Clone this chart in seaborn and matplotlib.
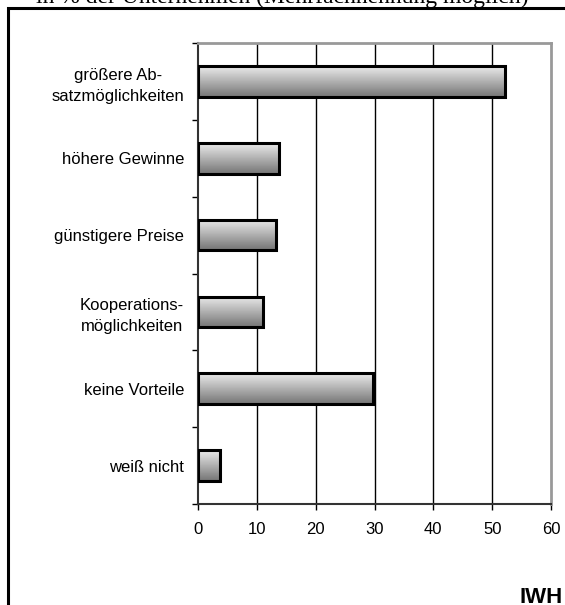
import numpy as np
import matplotlib
matplotlib.use("Agg")
import matplotlib.pyplot as plt
from matplotlib.patches import Rectangle
import seaborn as sns
import pandas as pd

categories = ["größere Ab-\nsatzmöglichkeiten", "höhere Gewinne", "günstigere Preise",
              "Kooperations-\nmöglichkeiten", "keine Vorteile", "weiß nicht"]
values = [52.1, 13.7, 13.2, 11.0, 29.8, 3.8]
x_ticks = [0, 10, 20, 30, 40, 50, 60]
title = "in % der Unternehmen (Mehrfachnennung möglich)"

sns.set_style("white")
plt.rcParams['font.family'] = ['Liberation Sans', 'DejaVu Sans']
plt.rcParams['text.color'] = 'black'
plt.rcParams['xtick.color'] = 'black'
plt.rcParams['ytick.color'] = 'black'

df = pd.DataFrame({"cat": categories, "val": values})

W, H = 565, 605
fig = plt.figure(figsize=(W / 100, H / 100), dpi=100)
ax = fig.add_axes([198 / W, 1 - 504 / H, (551 - 198) / W, (504 - 43) / H])

sns.barplot(data=df, x="val", y="cat", orient="h", width=0.4,
            color="white", edgecolor="black", linewidth=2.2, ax=ax, zorder=3)

# vertical gradient inside each bar
grad = np.linspace(0.92, 0.46, 64).reshape(-1, 1)
for p in ax.patches:
    x0, y0 = p.get_x(), p.get_y()
    w, h = p.get_width(), p.get_height()
    im = ax.imshow(grad, cmap="gray", vmin=0, vmax=1, aspect="auto",
                   extent=(x0, x0 + w, y0 + h, y0), zorder=2.5,
                   interpolation="bilinear")
    im.set_clip_path(p)
    p.set_facecolor("none")

ax.set_xlim(0, 60)
ax.set_ylim(5.5, -0.5)
ax.set_xticks(x_ticks)
ax.set_xlabel("")
ax.set_ylabel("")

for v in x_ticks[1:-1]:
    ax.axvline(v, color="black", lw=1.0, zorder=1)

for side in ["top", "right"]:
    ax.spines[side].set_visible(True)
    ax.spines[side].set_color("#999999")
    ax.spines[side].set_linewidth(2)
for side in ["left", "bottom"]:
    ax.spines[side].set_color("#333333")
    ax.spines[side].set_linewidth(1.5)

ax.set_yticks(np.arange(-0.5, 6, 1), minor=True)
ax.tick_params(axis="y", which="minor", direction="out", length=4, width=1, color="black", left=True)
ax.tick_params(axis="y", which="major", length=0, pad=10, labelsize=12)
for lab in ax.get_yticklabels():
    lab.set_horizontalalignment("right")
    lab.set_multialignment("center")
    lab.set_linespacing(1.5)
ax.tick_params(axis="x", which="major", direction="out", length=4, width=1,
               color="black", bottom=True, labelsize=12, pad=9)

# outer frame (cut by image edge)
fig.patches.append(Rectangle((8 / W, -0.05), 1.2, 1 - 8 / H + 0.05,
                             transform=fig.transFigure, fill=False,
                             edgecolor="black", lw=2.2))

fig.text(0.5, 1 - 3 / H, title, ha="center", va="baseline",
         fontsize=17, family=["Liberation Serif", "DejaVu Serif"])
fig.text(1 - 2 / W, 1 - 603 / H, "IWH", ha="right", va="baseline",
         fontsize=16, fontweight="bold")

fig.savefig("out.png", dpi=100)
